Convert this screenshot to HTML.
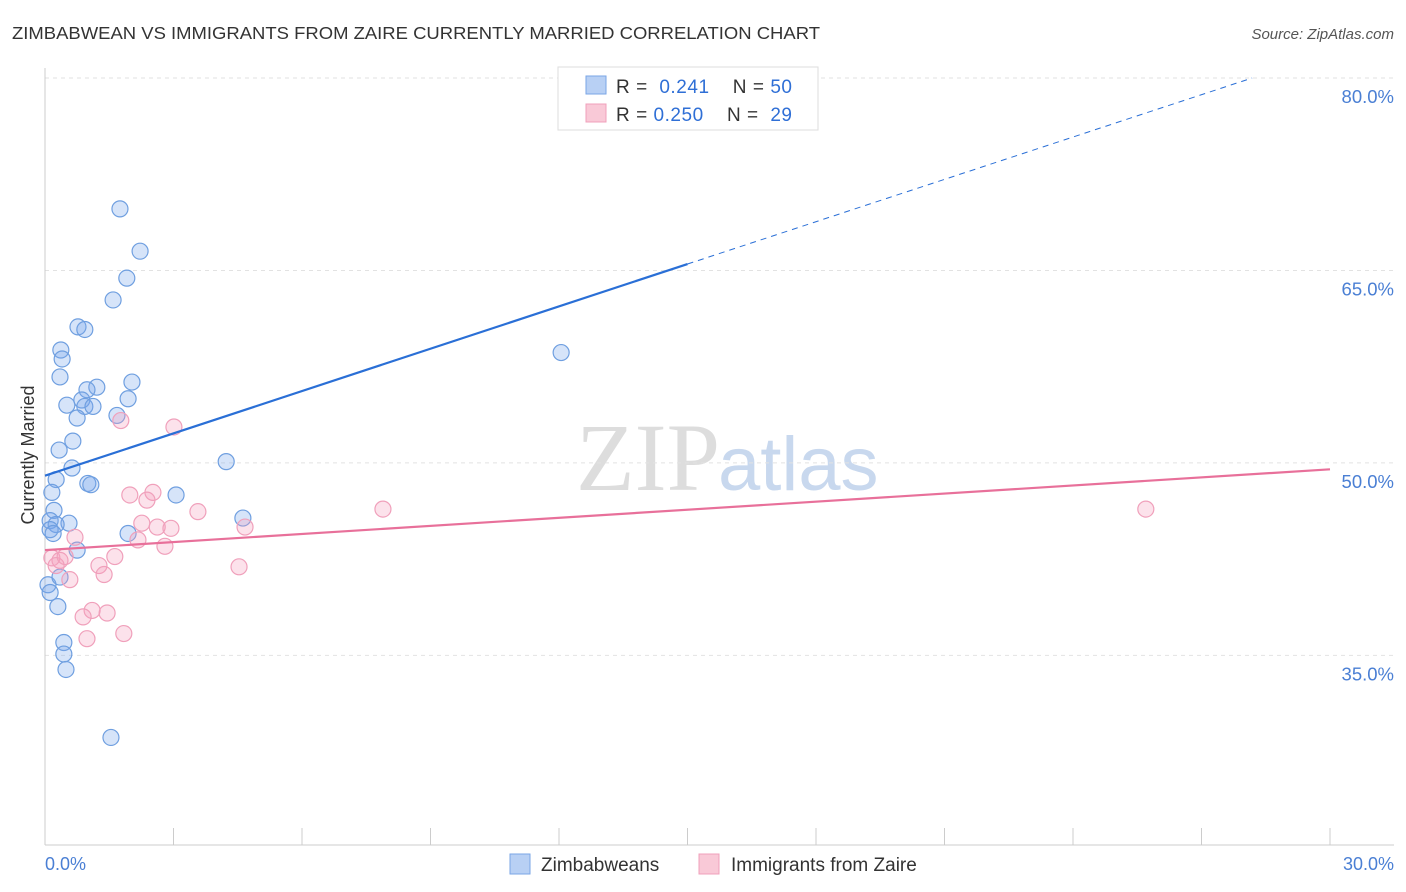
<!DOCTYPE html>
<html><head><meta charset="utf-8"><style>
body{margin:0;background:#fff;font-family:"Liberation Sans",sans-serif}
svg{display:block}
</style></head><body>
<svg width="1406" height="892" xmlns="http://www.w3.org/2000/svg">
<text x="12" y="39" font-size="17.5" fill="#333" textLength="808" lengthAdjust="spacingAndGlyphs">ZIMBABWEAN VS IMMIGRANTS FROM ZAIRE CURRENTLY MARRIED CORRELATION CHART</text>
<text x="1394" y="39" font-size="15" fill="#555" font-style="italic" text-anchor="end">Source: ZipAtlas.com</text>
<text x="720" y="490" font-size="96" fill="#ddd" text-anchor="end" font-family="Liberation Serif,serif">ZIP</text>
<text x="718" y="490" font-size="76" fill="#c8d8ee">atlas</text>
<g id="grid"></g>
<g id="axes"></g>
<g id="marks"></g>
<text x="34" y="455" font-size="18" fill="#333" text-anchor="middle" transform="rotate(-90 34 455)">Currently Married</text>
<text x="45" y="870" font-size="18" fill="#4a7fd4">0.0%</text>
<text x="1394" y="870" font-size="18" fill="#4a7fd4" text-anchor="end">30.0%</text>
<g>
<rect x="558" y="67" width="260" height="63" fill="#fff" stroke="#ddd"/>
<rect x="586" y="76" width="20" height="18" fill="#b8d0f4" stroke="#7aa6e6"/>
<rect x="586" y="104" width="20" height="18" fill="#f9c9d7" stroke="#f0a0bb"/>
<text x="616" y="93" font-size="19" fill="#333" textLength="176" xml:space="preserve">R =  <tspan fill="#2f6fd6">0.241</tspan>    N = <tspan fill="#2f6fd6">50</tspan></text>
<text x="616" y="121" font-size="19" fill="#333" textLength="176" xml:space="preserve">R = <tspan fill="#2f6fd6">0.250</tspan>    N =  <tspan fill="#2f6fd6">29</tspan></text>
</g>
<g>
<rect x="510" y="854" width="20" height="20" fill="#b8d0f4" stroke="#7aa6e6"/>
<text x="541" y="871" font-size="19" fill="#333">Zimbabweans</text>
<rect x="699" y="854" width="20" height="20" fill="#f9c9d7" stroke="#f0a0bb"/>
<text x="731" y="871" font-size="19" fill="#333">Immigrants from Zaire</text>
</g>
</svg>
<script>
const blueX=[1.75,2.22,1.91,1.59,0.77,0.93,0.37,0.40,0.35,1.21,2.03,0.98,0.51,0.86,0.93,1.12,1.94,1.68,0.75,0.65,0.33,0.63,0.26,1.00,1.07,0.16,3.06,4.23,12.05,0.21,0.12,0.56,0.26,0.12,0.19,1.94,4.62,0.75,0.07,0.35,0.30,0.44,0.44,0.49,1.54,0.12];
const blueY=[69.8,66.5,64.4,62.7,60.6,60.4,58.8,58.1,56.7,55.9,56.3,55.7,54.5,54.9,54.4,54.4,55.0,53.7,53.5,51.7,51.0,49.6,48.7,48.4,48.3,47.7,47.5,50.1,58.6,46.3,45.5,45.3,45.2,44.8,44.5,44.5,45.7,43.2,40.5,41.1,38.8,36.0,35.1,33.9,28.6,39.9];
const pinkX=[1.77,3.01,1.98,2.52,2.38,3.57,7.89,25.7,2.26,2.62,2.94,4.67,0.70,2.17,2.80,0.16,0.35,0.26,0.47,1.63,1.26,1.38,4.53,0.58,1.10,1.45,0.89,1.84,0.98];
const pinkY=[53.3,52.8,47.5,47.7,47.1,46.2,46.4,46.4,45.3,45.0,44.9,45.0,44.2,44.0,43.5,42.6,42.4,42.0,42.7,42.7,42.0,41.3,41.9,40.9,38.5,38.3,38.0,36.7,36.3];
const yTicks=[80,65,50,35];
const xTicks=[0,3,6,9,12,15,18,21,24,27,30];
const blueTrend=[49.0,1.1];
const pinkTrend=[43.2,0.21];
const NS="http://www.w3.org/2000/svg";
const sx=v=>45+v/30*1285, sy=v=>78+(80-v)*12.83;
function mk(tag,a,p){const e=document.createElementNS(NS,tag);for(const k in a)e.setAttribute(k,a[k]);p.appendChild(e);return e;}
const grid=document.getElementById('grid'),axes=document.getElementById('axes'),marks=document.getElementById('marks');
yTicks.forEach(t=>{
 const l=mk('line',{x1:45,x2:1394,y1:sy(t),y2:sy(t),stroke:'#e2e2e2','stroke-dasharray':'4,4'},grid);
 
 
 const tx=mk('text',{x:1394,y:sy(t)+25,'font-size':18.5,fill:'#4a7fd4','text-anchor':'end'},grid);
 tx.textContent=t.toFixed(1)+'%';
 
 
});
const ax=mk('line',{x1:45,x2:1394,y1:845,y2:845,stroke:'#ccc'},axes);


const ay=mk('line',{x1:45,x2:45,y1:68,y2:845,stroke:'#ccc'},axes);


xTicks.forEach(t=>{
 const l=mk('line',{x1:sx(t),x2:sx(t),y1:828,y2:845,stroke:'#ccc'},axes);
 
 
});
blueX.forEach((x,i)=>{
 const c=mk('circle',{cx:sx(x),cy:sy(blueY[i]),r:8,fill:'rgba(120,165,235,0.3)',stroke:'#6f9fe0','stroke-width':1.2},marks);
 
 
});
pinkX.forEach((x,i)=>{
 const c=mk('circle',{cx:sx(x),cy:sy(pinkY[i]),r:8,fill:'rgba(245,160,190,0.3)',stroke:'#f0a0bb','stroke-width':1.2},marks);
 
 
});
const bt=v=>blueTrend[0]+blueTrend[1]*v, pt=v=>pinkTrend[0]+pinkTrend[1]*v;
const b1=mk('line',{x1:sx(0),y1:sy(bt(0)),x2:sx(15),y2:sy(bt(15)),stroke:'#2a6fd6','stroke-width':2.2},marks);


const xe=(80-blueTrend[0])/blueTrend[1];
const b2=mk('line',{x1:sx(15),y1:sy(bt(15)),x2:sx(xe),y2:sy(bt(xe)),stroke:'#2a6fd6','stroke-width':1,'stroke-dasharray':'6,5'},marks);


const p1=mk('line',{x1:sx(0),y1:sy(pt(0)),x2:sx(30),y2:sy(pt(30)),stroke:'#e8709a','stroke-width':2.2},marks);


</script>
</body></html>
